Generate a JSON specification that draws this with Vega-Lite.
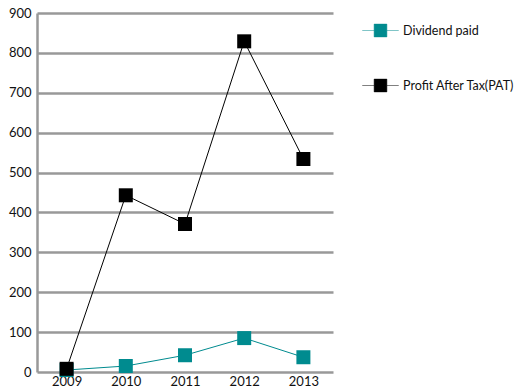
{
  "$schema": "https://vega.github.io/schema/vega-lite/v6.json",
  "width": 296,
  "height": 359,
  "autosize": {"type": "none"},
  "padding": {"left": 37, "top": 13, "right": 184, "bottom": 20},
  "background": "white",
  "data": {
    "values": [
      {"year": "2009", "series": "Dividend paid", "value": 5},
      {"year": "2010", "series": "Dividend paid", "value": 15},
      {"year": "2011", "series": "Dividend paid", "value": 42},
      {"year": "2012", "series": "Dividend paid", "value": 85},
      {"year": "2013", "series": "Dividend paid", "value": 37},
      {"year": "2009", "series": "Profit After Tax(PAT)", "value": 8},
      {"year": "2010", "series": "Profit After Tax(PAT)", "value": 443},
      {"year": "2011", "series": "Profit After Tax(PAT)", "value": 371},
      {"year": "2012", "series": "Profit After Tax(PAT)", "value": 829},
      {"year": "2013", "series": "Profit After Tax(PAT)", "value": 534}
    ]
  },
  "config": {
    "view": {"stroke": null},
    "font": "Lato",
    "axis": {"labelFont": "Lato", "labelFontSize": 13, "labelColor": "#111"},
    "legend": {"labelFont": "Lato", "labelFontSize": 12.5, "labelColor": "#111"}
  },
  "encoding": {
    "x": {
      "field": "year", "type": "ordinal",
      "scale": {"type": "point", "padding": 0.5},
      "axis": {"title": null, "labelAngle": 0, "ticks": false, "domain": false, "labelPadding": 3, "grid": false}
    },
    "y": {
      "field": "value", "type": "quantitative",
      "scale": {"domain": [0, 900], "nice": false},
      "axis": {"title": null, "values": [0,100,200,300,400,500,600,700,800,900], "ticks": false,
        "domain": true, "domainColor": "#999", "domainWidth": 2.5,
        "grid": true, "gridColor": "#999", "gridWidth": 2.5, "labelPadding": 6}
    },
    "color": {
      "field": "series", "type": "nominal",
      "scale": {"domain": ["Dividend paid", "Profit After Tax(PAT)"], "range": ["#008b8f", "#000000"]},
      "legend": {
        "title": null, "orient": "none", "legendX": 325, "legendY": -1,
        "symbolType": "M-1,0L-0.35,0M0.35,0L1,0M-0.35,-0.35H0.35V0.35H-0.35Z",
        "symbolSize": 1330, "symbolStrokeWidth": 0.5, "symbolOpacity": 1, "rowPadding": 29, "labelOffset": 4,
        "labelLimit": 300
      }
    }
  },
  "layer": [
    {"mark": {"type": "line", "strokeWidth": 1}},
    {"mark": {"type": "point", "shape": "square", "filled": true, "size": 196, "opacity": 1}}
  ]
}
